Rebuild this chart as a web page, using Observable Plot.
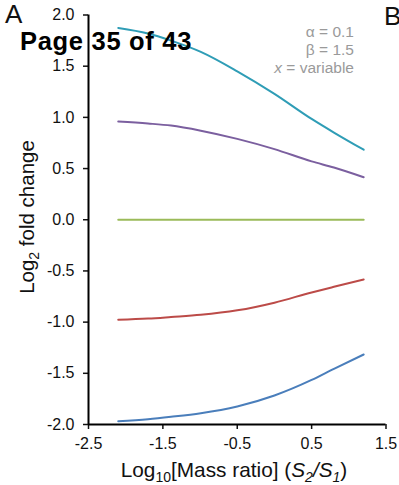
<!DOCTYPE html>
<html>
<head>
<meta charset="utf-8">
<script src="https://cdn.jsdelivr.net/npm/d3@7"></script>
<script src="https://cdn.jsdelivr.net/npm/@observablehq/plot@0.6"></script>
<style>
  html, body { margin: 0; padding: 0; background: #fff; }
  #wrap { position: relative; width: 399px; height: 485px; overflow: hidden; font-family: Arial, "Liberation Sans", sans-serif; }
  .ov { position: absolute; white-space: nowrap; line-height: 1; }
</style>
</head>
<body>
<div id="wrap"></div>
<script>
// Data
const massRatio = [-2.1, -1.7, -1.39, -0.99, -0.5, 0, 0.5, 0.8, 1.2];
const seriesNames = ["Series A", "Series B", "Series C", "Series D", "Series E"];
const seriesColors = ["#2f9db6", "#7b5f9f", "#9bbb59", "#bc4b48", "#4a7ebb"];
const tealValues   = [1.874, 1.82, 1.75, 1.64, 1.45, 1.23, 0.985, 0.852, 0.684];
const purpleValues = [0.959, 0.94, 0.92, 0.87, 0.79, 0.69, 0.57, 0.51, 0.415];
const greenValues  = [0, 0, 0, 0, 0, 0, 0, 0, 0];
const redValues    = [-0.977, -0.965, -0.95, -0.929, -0.885, -0.81, -0.71, -0.655, -0.584];
const blueValues   = [-1.968, -1.948, -1.925, -1.89, -1.824, -1.717, -1.565, -1.456, -1.316];
const xTicks = [-2.5, -1.5, -0.5, 0.5, 1.5];
const yTicks = [-2.0, -1.5, -1.0, -0.5, 0.0, 0.5, 1.0, 1.5, 2.0];
const annotLines = ["α = 0.1", "β = 1.5", "x = variable"];

const allValues = [tealValues, purpleValues, greenValues, redValues, blueValues];
const rows = [];
seriesNames.forEach((s, i) => {
  massRatio.forEach((x, j) => rows.push({series: s, x, y: allValues[i][j]}));
});

const W = 399, H = 485;
const fmt = d => d.toFixed(1);
const chart = Plot.plot({
  width: W,
  height: H,
  marginLeft: 88,
  marginRight: 13.5,
  marginTop: 14.5,
  marginBottom: 61,
  style: {fontFamily: "Arial, 'Liberation Sans', sans-serif", fontSize: "16px", color: "#111", background: "#fff"},
  x: {domain: [-2.5, 1.5], label: null},
  y: {domain: [-2, 2], label: null},
  color: {domain: seriesNames, range: seriesColors},
  marks: [
    Plot.line(rows, {x: "x", y: "y", z: "series", stroke: "series", strokeWidth: 2, curve: "monotone-x"}),
    Plot.axisX({ticks: xTicks, tickFormat: fmt, tickSize: 5, tickPadding: 8, strokeWidth: 1.5, fontSize: 16, label: null}),
    Plot.axisY({ticks: yTicks, tickFormat: fmt, tickSize: 5, tickPadding: 9, strokeWidth: 1.5, fontSize: 16, label: null}),
    Plot.ruleX([-2.5], {stroke: "#000", strokeWidth: 2}),
    Plot.ruleY([-2], {stroke: "#000", strokeWidth: 2})
  ]
});
const wrap = document.getElementById("wrap");
wrap.appendChild(chart);

// Axis titles with subscripts, added as SVG text
const svg = d3.select(chart);
const xt = svg.append("text")
  .attr("x", 234).attr("y", 477)
  .attr("text-anchor", "middle")
  .attr("font-size", 20.8).attr("fill", "#111");
xt.append("tspan").text("Log");
xt.append("tspan").attr("font-size", 14).attr("dy", 5).text("10");
xt.append("tspan").attr("dy", -5).text("[Mass ratio] (");
xt.append("tspan").attr("font-style", "italic").text("S");
xt.append("tspan").attr("font-size", 14).attr("font-style", "italic").attr("dy", 5).text("2");
xt.append("tspan").attr("dy", -5).attr("font-style", "italic").text("/S");
xt.append("tspan").attr("font-size", 14).attr("font-style", "italic").attr("dy", 5).text("1");
xt.append("tspan").attr("dy", -5).text(")");

const yt = svg.append("text")
  .attr("transform", "translate(34,217) rotate(-90)")
  .attr("text-anchor", "middle")
  .attr("font-size", 20.5).attr("fill", "#111");
yt.append("tspan").text("Log");
yt.append("tspan").attr("font-size", 14).attr("dy", 5).text("2");
yt.append("tspan").attr("dy", -5).text(" fold change");

// Parameter annotation
const ann = svg.append("g").attr("fill", "#9a9a9a").attr("font-size", 15.5).attr("text-anchor", "end");
annotLines.forEach((t, i) => {
  const tx = ann.append("text").attr("x", 354).attr("y", 37 + i * 17.8);
  if (t.startsWith("x ")) {
    tx.append("tspan").attr("font-style", "italic").text("x");
    tx.append("tspan").text(t.slice(1));
  } else {
    tx.text(t);
  }
});

// Panel letters and page overlay
function ov(text, left, top, css) {
  const d = document.createElement("div");
  d.className = "ov";
  d.textContent = text;
  d.style.left = left + "px";
  d.style.top = top + "px";
  Object.assign(d.style, css || {});
  wrap.appendChild(d);
}
ov("A", 5, 1, {fontSize: "26px", color: "#111"});
ov("B", 384, 3, {fontSize: "26px", color: "#111"});
ov("Page 35 of 43", 20, 29, {fontSize: "25.5px", fontWeight: "bold", color: "#000", letterSpacing: "0.7px"});
</script>
</body>
</html>
